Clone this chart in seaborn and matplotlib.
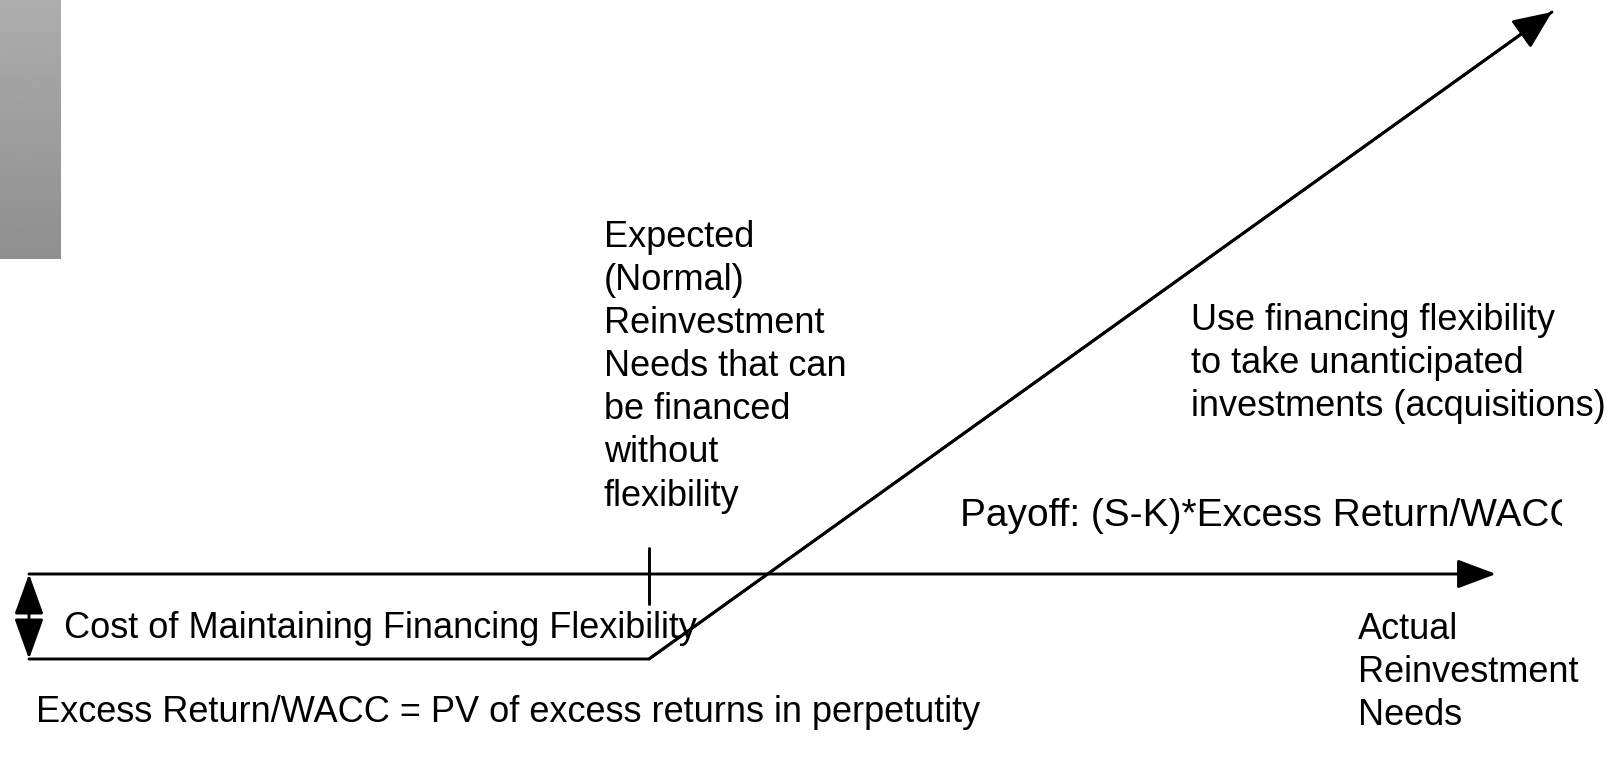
import matplotlib.pyplot as plt
import numpy as np
import pandas as pd
import seaborn as sns

# diagram coordinates (pixel-like units, y grows downward)
payoff_x = [29, 649, 1552]
payoff_y = [659, 659, 12]
axis_x = [29, 1496]
axis_y = [574, 574]
expected_x = [649, 649]
expected_y = [548, 604]
cost_x = [29, 29]
cost_y = [574, 659]

expected_label = 'Expected\n(Normal)\nReinvestment\nNeeds that can\nbe financed\nwithout\nflexibility'
flex_label = 'Use financing flexibility\nto take unanticipated\ninvestments (acquisitions)'
payoff_label = 'Payoff: (S-K)*Excess Return/WACC'
cost_label = 'Cost of Maintaining Financing Flexibility'
actual_label = 'Actual\nReinvestment\nNeeds'
pv_label = 'Excess Return/WACC = PV of excess returns in perpetutity'

sns.set_style('white')
plt.rcParams['font.family'] = ['Liberation Sans', 'DejaVu Sans']
plt.rcParams['text.color'] = 'black'

fig = plt.figure(figsize=(16.2, 7.58), dpi=100)
ax = fig.add_axes([0, 0, 1, 1])

# grey gradient block at top left
grad = np.linspace(0.68, 0.56, 100).reshape(-1, 1)
ax.imshow(grad, cmap='gray', vmin=0, vmax=1, extent=[0, 61, 259, 0], aspect='auto', zorder=0)

payoff = pd.DataFrame({'x': payoff_x, 'y': payoff_y})
sns.lineplot(data=payoff, x='x', y='y', sort=False, color='black', lw=2.1, ax=ax)
ax.annotate('', xy=(payoff_x[2], payoff_y[2]), xytext=(payoff_x[1], payoff_y[1]),
            arrowprops=dict(arrowstyle='-|>,head_length=24,head_width=10.5', mutation_scale=1,
                            color='black', lw=2.1, shrinkA=0, shrinkB=0))

ax.annotate('', xy=(axis_x[1], axis_y[1]), xytext=(axis_x[0], axis_y[0]),
            arrowprops=dict(arrowstyle='-|>,head_length=24,head_width=9', mutation_scale=1,
                            color='black', lw=2.1, shrinkA=0, shrinkB=0))

ax.plot(expected_x, expected_y, color='black', lw=2.1)

ax.annotate('', xy=(cost_x[0], cost_y[0]), xytext=(cost_x[1], cost_y[1]),
            arrowprops=dict(arrowstyle='<|-|>,head_length=25,head_width=9', mutation_scale=1,
                            color='black', lw=2.1, shrinkA=0, shrinkB=0))

fs = 26
ax.text(604, 220, expected_label, fontsize=fs, va='top', ha='left', linespacing=1.3)
ax.text(1191, 303, flex_label, fontsize=fs, va='top', ha='left', linespacing=1.3)
payoff_txt = ax.text(960, 526, payoff_label, fontsize=28, va='baseline', ha='left')
ax.text(64, 638, cost_label, fontsize=fs, va='baseline', ha='left')
ax.text(1358, 612, actual_label, fontsize=fs, va='top', ha='left', linespacing=1.3)
ax.text(36, 722, pv_label, fontsize=fs, va='baseline', ha='left')

ax.set_xlim(0, 1620)
ax.set_ylim(758, 0)
ax.axis('off')

# the payoff label is cut off at the right edge
clip = plt.Rectangle((0, 0), 1562, 758, transform=ax.transData)
payoff_txt.set_clip_on(True)
payoff_txt.set_clip_path(clip)

fig.savefig('out.png', dpi=100)
